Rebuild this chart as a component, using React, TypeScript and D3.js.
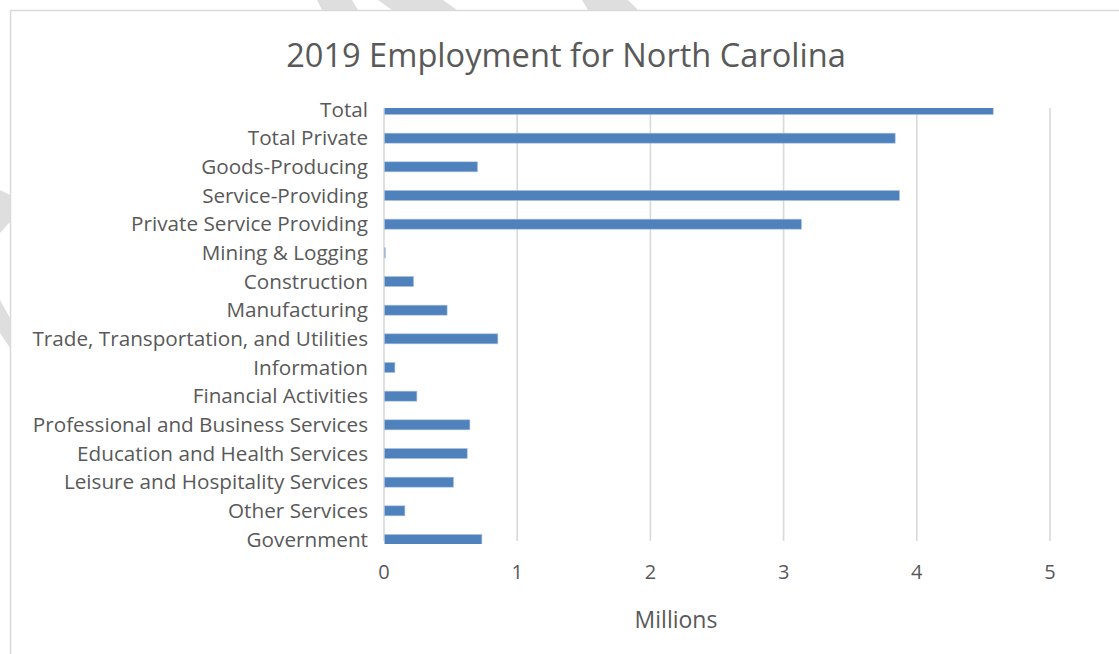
import React from "react";
import * as d3 from "d3";

const categories: string[] = [
  "Total",
  "Total Private",
  "Goods-Producing",
  "Service-Providing",
  "Private Service Providing",
  "Mining & Logging",
  "Construction",
  "Manufacturing",
  "Trade, Transportation, and Utilities",
  "Information",
  "Financial Activities",
  "Professional and Business Services",
  "Education and Health Services",
  "Leisure and Hospitality Services",
  "Other Services",
  "Government",
];

const values: number[] = [
  4.57, 3.834, 0.698, 3.866, 3.13, 0.006, 0.218, 0.47, 0.851, 0.078, 0.243,
  0.641, 0.621, 0.518, 0.153, 0.731,
];

const xTicks: number[] = [0, 1, 2, 3, 4, 5];

const title = "2019 Employment for North Carolina";
const xAxisTitle = "Millions";

const W = 1119;
const H = 654;
const PLOT_LEFT = 384;
const PLOT_RIGHT = 1050;
const PLOT_TOP = 108;
const PLOT_BOTTOM = 541;
const TEXT = "#595959";
const GRID = "#d9d9d9";
const BAR = "#4f81bd";
const FONT = "'Open Sans', 'Noto Sans', sans-serif";

// decorative watermark stripes outside the chart frame
const stripes: [number, number][][] = [
  [[317, 0], [352, 0], [358, 10], [322, 10]],
  [[378, 0], [443, 0], [457, 10], [392, 10]],
  [[582, 0], [628, 0], [638, 10], [588, 10]],
  [[0, 190], [10, 195], [10, 222], [0, 233]],
  [[0, 300], [10, 318], [10, 348], [0, 333]],
];

export default function App() {
  const x = d3.scaleLinear().domain([0, 5]).range([PLOT_LEFT, PLOT_RIGHT]);
  const y = d3
    .scalePoint<string>()
    .domain(categories)
    .range([109.5, 539.5]);
  const barH = 10;

  return (
    <svg
      width={W}
      height={H}
      style={{ position: "absolute", left: 0, top: 0, background: "#fff" }}
      fontFamily={FONT}
    >
      <defs>
        <clipPath id="plotClip">
          <rect x={PLOT_LEFT - 2} y={PLOT_TOP} width={PLOT_RIGHT - PLOT_LEFT + 4} height={PLOT_BOTTOM - PLOT_TOP + 3} />
        </clipPath>
      </defs>
      {stripes.map((p, i) => (
        <polygon key={i} points={p.map((q) => q.join(",")).join(" ")} fill="#dedede" />
      ))}
      <rect x={10.5} y={10.5} width={1200} height={800} fill="#fff" stroke={GRID} strokeWidth={1.5} />

      <text x={566} y={67} textAnchor="middle" fontSize={32.6} fill={TEXT}>
        {title}
      </text>

      {xTicks.map((t) => (
        <line
          key={"g" + t}
          x1={x(t)}
          x2={x(t)}
          y1={PLOT_TOP}
          y2={PLOT_BOTTOM}
          stroke={GRID}
          strokeWidth={1.6}
        />
      ))}

      <g clipPath="url(#plotClip)">
        {categories.map((c, i) => (
          <rect
            key={c}
            x={x(0) + 0.5}
            y={(y(c) as number) - barH / 2}
            width={Math.max(0, x(values[i]) - x(0))}
            height={barH}
            fill={BAR}
            stroke="#a7c0de"
            strokeWidth={0.6}
          />
        ))}
      </g>

      {categories.map((c) => (
        <text
          key={"l" + c}
          x={368}
          y={y(c) as number}
          dy="0.35em"
          textAnchor="end"
          fontSize={20.7}
          fill={TEXT}
        >
          {c}
        </text>
      ))}

      {xTicks.map((t) => (
        <text key={"t" + t} x={x(t)} y={572} dy="0.35em" textAnchor="middle" fontSize={20} fill={TEXT}>
          {d3.format("d")(t)}
        </text>
      ))}

      <text x={676} y={620} dy="0.35em" textAnchor="middle" fontSize={23} fill={TEXT}>
        {xAxisTitle}
      </text>
    </svg>
  );
}
